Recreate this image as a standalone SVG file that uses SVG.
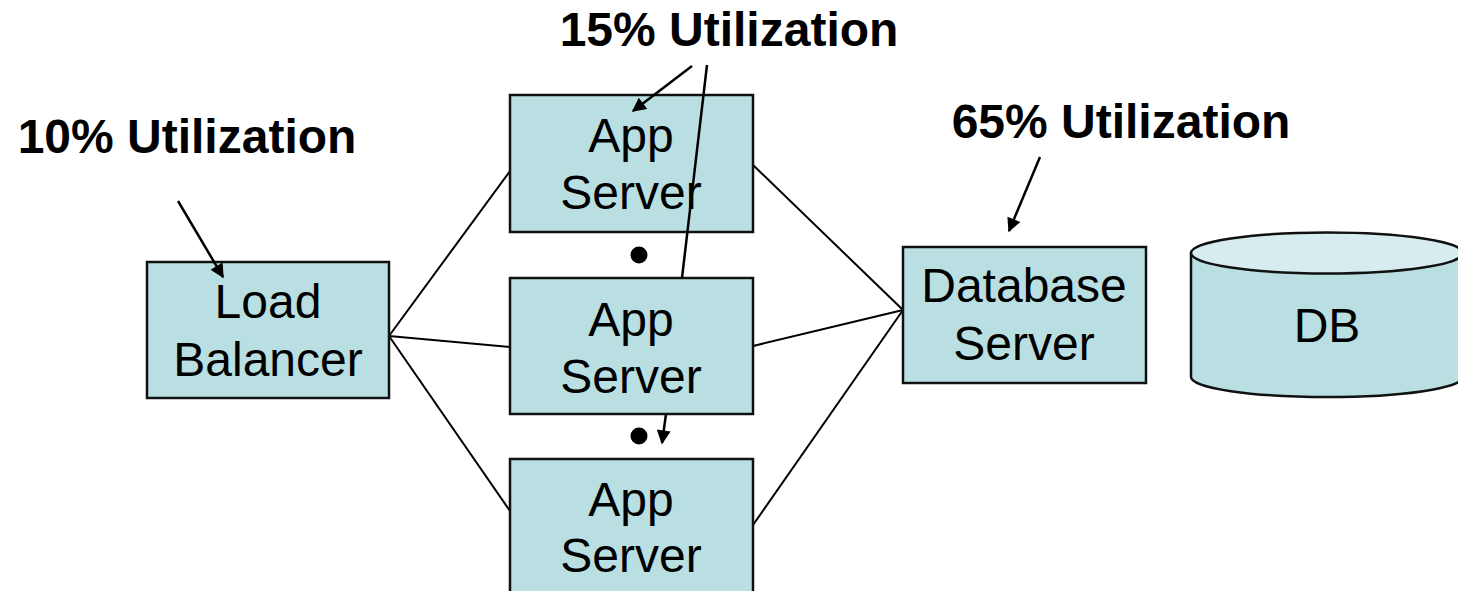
<svg xmlns="http://www.w3.org/2000/svg" width="1458" height="591" viewBox="0 0 1458 591">
  <style>
    .box { fill: #b9dfe2; stroke: #111; stroke-width: 2.5; }
    .lbl { font-family: "Liberation Sans", Arial, sans-serif; font-size: 48px; fill: #000; text-anchor: middle; }
    .note { font-family: "Liberation Sans", Arial, sans-serif; font-size: 48px; font-weight: bold; fill: #000; text-anchor: middle; }
    .wire { stroke: #000; stroke-width: 2; fill: none; }
    .ptr { stroke: #000; stroke-width: 2.5; fill: none; }
    .ptrA { stroke: #000; stroke-width: 2.5; fill: none; marker-end: url(#head); }
  </style>
  <defs>
    <marker id="head" viewBox="0 0 10 10" refX="9" refY="5" markerUnits="userSpaceOnUse" markerWidth="18" markerHeight="14" orient="auto">
      <path d="M0,0 L10,5 L0,10 Z" fill="#000"/>
    </marker>
  </defs>
  <rect width="1458" height="591" fill="#fff"/>

  <!-- links between tiers -->
  <g id="connectors">
    <line class="wire" x1="389" y1="336" x2="510" y2="171"/>
    <line class="wire" x1="389" y1="336" x2="510" y2="347"/>
    <line class="wire" x1="389" y1="336" x2="510" y2="511"/>
    <line class="wire" x1="753" y1="165" x2="903" y2="310"/>
    <line class="wire" x1="753" y1="346" x2="903" y2="310"/>
    <line class="wire" x1="753" y1="525" x2="903" y2="310"/>
  </g>

  <g id="load-balancer">
    <rect class="box" x="147" y="262" width="242" height="136"/>
    <text class="lbl" x="268" y="318">Load</text>
    <text class="lbl" x="268" y="376">Balancer</text>
  </g>

  <g id="app-server-1">
    <rect class="box" x="510" y="95" width="243" height="137"/>
    <text class="lbl" x="631" y="152">App</text>
    <text class="lbl" x="631" y="209">Server</text>
  </g>

  <g id="app-server-2">
    <rect class="box" x="510" y="278" width="243" height="136"/>
    <text class="lbl" x="631" y="336">App</text>
    <text class="lbl" x="631" y="393">Server</text>
  </g>

  <g id="app-server-3">
    <rect class="box" x="510" y="459" width="243" height="140"/>
    <text class="lbl" x="631" y="516">App</text>
    <text class="lbl" x="631" y="572">Server</text>
  </g>

  <g id="database-server">
    <rect class="box" x="903" y="247" width="243" height="136"/>
    <text class="lbl" x="1024" y="302">Database</text>
    <text class="lbl" x="1024" y="360">Server</text>
  </g>

  <g id="db">
    <path class="box" d="M1191,253 L1191,377 A136,20 0 0 0 1463,377 L1463,253"/>
    <ellipse cx="1327" cy="253" rx="136" ry="20.5" fill="#d6ecee" stroke="#111" stroke-width="2.5"/>
    <text class="lbl" x="1327" y="342">DB</text>
  </g>

  <!-- ellipsis dots between app servers -->
  <g id="more-servers">
    <circle cx="639" cy="255" r="8.5" fill="#000"/>
    <circle cx="639" cy="436" r="8.5" fill="#000"/>
  </g>

  <g id="notes">
    <text class="note" x="187" y="153">10% Utilization</text>
    <text class="note" x="729" y="46">15% Utilization</text>
    <text class="note" x="1121" y="138">65% Utilization</text>
    <line class="ptrA" x1="178" y1="201" x2="223" y2="277"/>
    <line class="ptrA" x1="692" y1="66" x2="633" y2="111"/>
    <line class="ptr" x1="707" y1="65" x2="682" y2="278"/>
    <line class="ptrA" x1="666" y1="414" x2="662" y2="443"/>
    <line class="ptrA" x1="1040" y1="157" x2="1009" y2="231"/>
  </g>
</svg>
